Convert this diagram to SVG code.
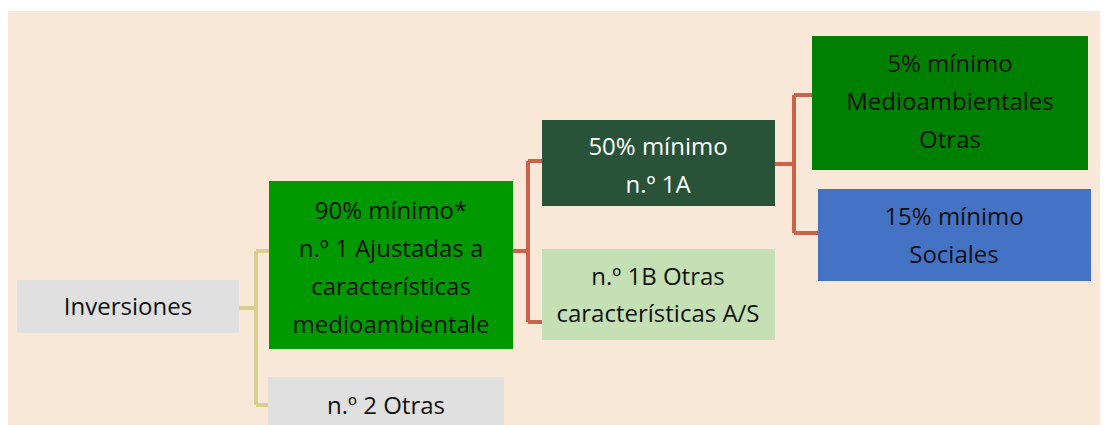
<svg xmlns="http://www.w3.org/2000/svg" width="1107" height="425" viewBox="0 0 1107 425">
<style>
text{font-family:"Open Sans","Noto Sans","Liberation Sans",sans-serif;font-size:24px;text-anchor:middle;fill:#111}
.w{fill:#fff}
.c{fill:none;stroke-width:4}
.t{stroke:#d8ce8e}
.r{stroke:#c9634c}
</style>
<rect x="0" y="0" width="1107" height="425" fill="#fff"/>
<rect x="8" y="11" width="1092" height="414" fill="#f9e7d7"/>
<g id="connectors">
<path class="c t" d="M239 308H256M256 251V405M256 251H270M256 405H269"/>
<path class="c r" d="M513 251H528M528 161V322M528 161H543M528 322H543"/>
<path class="c r" d="M775 164H794M794 95V233M794 95H813M794 233H819"/>
</g>
<g id="inversiones"><rect x="17" y="280" width="222" height="53" fill="#e0e0e0"/><text x="128" y="315">Inversiones</text></g>
<g id="n1"><rect x="269" y="181" width="244" height="168" fill="#009900"/>
<text x="391" y="219">90% mínimo*</text><text x="391" y="257">n.º 1 Ajustadas a</text><text x="391" y="295">características</text><text x="391" y="333">medioambientale</text></g>
<g id="n2"><rect x="268" y="377" width="236" height="48" fill="#e0e0e0"/><text x="386" y="414">n.º 2 Otras</text></g>
<g id="n1a"><rect x="542" y="120" width="233" height="86" fill="#285339"/><text class="w" x="658" y="155">50% mínimo</text><text class="w" x="658" y="193">n.º 1A</text></g>
<g id="n1b"><rect x="542" y="249" width="233" height="91" fill="#c5e0b4"/><text x="658" y="285">n.º 1B Otras</text><text x="658" y="322">características A/S</text></g>
<g id="medio"><rect x="812" y="36" width="276" height="134" fill="#008000"/><text x="950" y="72">5% mínimo</text><text x="950" y="110">Medioambientales</text><text x="950" y="148">Otras</text></g>
<g id="sociales"><rect x="818" y="189" width="273" height="92" fill="#4472c4"/><text x="954" y="225">15% mínimo</text><text x="954" y="263">Sociales</text></g>
</svg>
